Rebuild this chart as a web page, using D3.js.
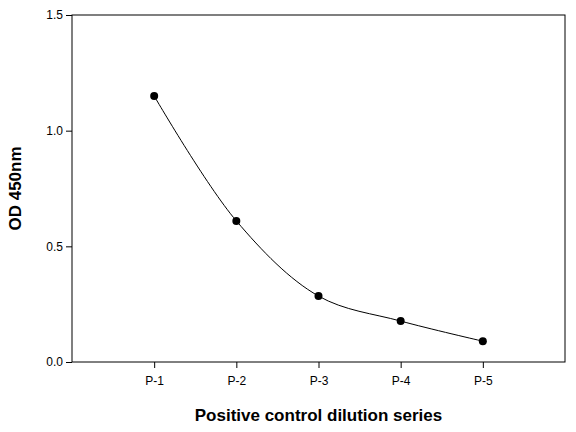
<!DOCTYPE html>
<html><head><meta charset="utf-8">
<script src="https://cdn.jsdelivr.net/npm/d3@7"></script>
<style>body{margin:0;background:#fff}</style></head>
<body><svg id="c" width="576" height="432"></svg>
<script>
const categories = ["P-1","P-2","P-3","P-4","P-5"];
const values = [1.15, 0.61, 0.285, 0.177, 0.09];
const yTicks = [0.0, 0.5, 1.0, 1.5];

const svg = d3.select("#c");
const L=72, R=565, T=15, B=362;
const x = d3.scalePoint().domain(["_a",...categories,"_b"]).range([L,R]);
const y = d3.scaleLinear().domain([0,1.5]).range([B,T]);
const font = "Arial, 'Liberation Sans', sans-serif";

svg.append("rect").attr("x",L).attr("y",T).attr("width",R-L).attr("height",B-T)
  .attr("fill","none").attr("stroke","#000").attr("stroke-width",1);

const xa = svg.append("g").attr("transform",`translate(0,${B})`)
  .call(d3.axisBottom(x).tickValues(categories).tickSize(6).tickSizeOuter(0));
const ya = svg.append("g").attr("transform",`translate(${L},0)`)
  .call(d3.axisLeft(y).tickValues(yTicks).tickFormat(d3.format(".1f")).tickSize(6).tickSizeOuter(0));
[xa,ya].forEach(a=>{a.select(".domain").remove();
  a.selectAll("text").attr("font-family",font).attr("font-size",12).attr("fill","#000");});
xa.selectAll("text").attr("dy","1.2em");

const pts = categories.map((c,i)=>[x(c),y(values[i])]);
svg.append("path").attr("d",d3.line().curve(d3.curveCatmullRom.alpha(0.5))(pts))
  .attr("fill","none").attr("stroke","#000").attr("stroke-width",1);
svg.selectAll("circle.p").data(pts).join("circle")
  .attr("cx",d=>d[0]).attr("cy",d=>d[1]).attr("r",4).attr("fill","#000");

svg.append("text").attr("x",(L+R)/2).attr("y",421).attr("text-anchor","middle")
  .attr("font-family",font).attr("font-size",17).attr("font-weight","bold").text("Positive control dilution series");
svg.append("text").attr("transform",`translate(21,${(T+B)/2}) rotate(-90)`).attr("text-anchor","middle")
  .attr("font-family",font).attr("font-size",17).attr("font-weight","bold").text("OD 450nm");
</script></body></html>
